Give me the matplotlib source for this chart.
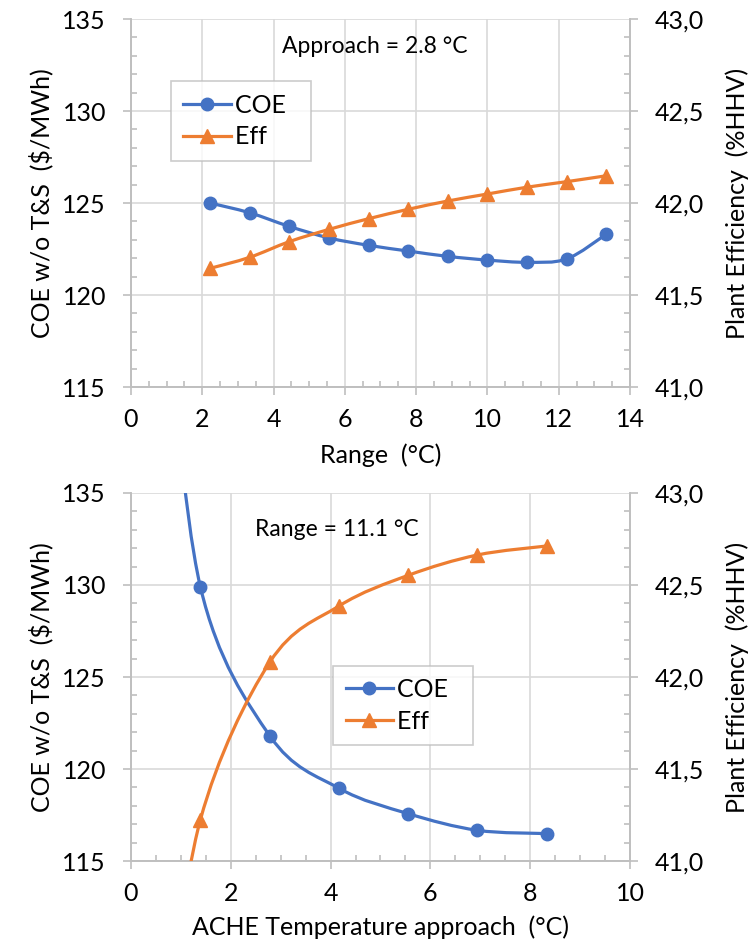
import matplotlib
matplotlib.use("Agg")
import matplotlib.pyplot as plt
import numpy as np
from matplotlib.lines import Line2D
from matplotlib.patches import PathPatch
from matplotlib.path import Path
from matplotlib.ticker import FuncFormatter, MultipleLocator

plt.rcParams["font.family"] = ["Lato", "DejaVu Sans"]

# top panel: varying range, approach = 2.8 C
range_c = [2.22, 3.33, 4.44, 5.56, 6.67, 7.78, 8.89, 10.0, 11.11, 12.22, 13.33]
coe_range = [125.0, 124.47, 123.73, 123.1, 122.7, 122.39, 122.1, 121.9, 121.78, 121.96, 123.3]
eff_range = [41.645, 41.705, 41.79, 41.857, 41.915, 41.966, 42.011, 42.049, 42.086, 42.116, 42.148]

# bottom panel: varying approach, range = 11.1 C (first point lies off the plotted range)
approach_c = [0.69, 1.39, 2.78, 4.17, 5.56, 6.94, 8.33]
coe_approach = [146.0, 129.91, 121.81, 118.95, 117.57, 116.67, 116.49]
eff_approach = [40.0, 41.223, 42.08, 42.386, 42.553, 42.663, 42.712]

BLUE = "#4472C4"
ORANGE = "#ED7D31"
GRID = "#D9D9D9"
SPINE = "#BFBFBF"
FS = 18


def smooth_path(x, y):
    # Excel-style smoothed line: cubic Bezier segments through the points
    pts = np.column_stack([x, y])
    n = len(pts)
    verts = [pts[0]]
    codes = [Path.MOVETO]
    for i in range(n - 1):
        p0 = pts[i - 1] if i > 0 else pts[i]
        p1, p2 = pts[i], pts[i + 1]
        p3 = pts[i + 2] if i + 2 < n else pts[i + 1]
        verts += [p1 + (p2 - p0) / 6, p2 - (p3 - p1) / 6, p2]
        codes += [Path.CURVE4] * 3
    return Path(verts, codes)


def comma(v, pos):
    return f"{v:.1f}".replace(".", ",")


def draw_panel(ax, x, coe, eff, xmax, xlabel, label_y, note, note_xy, leg_xy):
    ax2 = ax.twinx()
    ax.add_patch(PathPatch(smooth_path(x, coe), fill=False, edgecolor=BLUE, lw=2.3, zorder=3))
    ax.plot(x, coe, "o", color=BLUE, ms=9, zorder=4)
    ax2.add_patch(PathPatch(smooth_path(x, eff), fill=False, edgecolor=ORANGE, lw=2.3, zorder=3))
    ax2.plot(x, eff, "^", color=ORANGE, ms=9.5, zorder=4)

    ax.set_xlim(0, xmax)
    ax.set_ylim(115, 135)
    ax2.set_ylim(41.0, 43.0)
    ax.xaxis.set_major_locator(MultipleLocator(2))
    ax.xaxis.set_minor_locator(MultipleLocator(0.5))
    ax.yaxis.set_major_locator(MultipleLocator(5))
    ax.yaxis.set_minor_locator(MultipleLocator(1))
    ax2.yaxis.set_major_locator(MultipleLocator(0.5))
    ax2.yaxis.set_minor_locator(MultipleLocator(0.1))
    ax2.yaxis.set_major_formatter(FuncFormatter(comma))

    ax.grid(True, which="major", color=GRID, lw=1.2)
    ax.set_axisbelow(True)
    for a in (ax, ax2):
        for s in a.spines.values():
            s.set_color(SPINE)
            s.set_linewidth(1.2)
        a.spines["top"].set_visible(False)
        a.tick_params(which="major", direction="out", length=6, width=1.2, color=SPINE,
                      labelsize=FS, pad=12)
        a.tick_params(which="minor", direction="in", length=4, width=1.2, color=SPINE)
    ax.tick_params(axis="x", which="major", pad=9)

    ax.set_xlabel(xlabel, fontsize=FS, va="center")
    ax.xaxis.set_label_coords(0.5, label_y)
    ax.set_ylabel("COE w/o T&S  ($/MWh)", fontsize=FS, va="center")
    ax.yaxis.set_label_coords(-0.18, 0.5)
    ax2.set_ylabel("Plant Efficiency  (%HHV)", fontsize=FS, va="center")
    ax2.yaxis.set_label_coords(1.214, 0.5)

    ax.text(note_xy[0], note_xy[1], note, transform=ax.transAxes, fontsize=16.5,
            ha="center", va="center")

    handles = [
        Line2D([], [], color=BLUE, lw=2.3, marker="o", ms=9),
        Line2D([], [], color=ORANGE, lw=2.3, marker="^", ms=9.5),
    ]
    leg = ax2.legend(handles, ["COE  ", "Eff  "], loc="upper left", bbox_to_anchor=leg_xy,
                     borderaxespad=0, fontsize=FS, frameon=True, fancybox=False,
                     handlelength=1.9, handletextpad=0.15, labelspacing=0.35,
                     borderpad=0.5)
    leg.get_frame().set_edgecolor(SPINE)
    leg.get_frame().set_linewidth(1.2)


fig = plt.figure(figsize=(7.51, 9.41), dpi=100)
ax_top = fig.add_axes([0.1744, 0.5887, 0.6645, 0.3911])
ax_bot = fig.add_axes([0.1744, 0.0850, 0.6645, 0.3911])

draw_panel(ax_top, range_c, coe_range, eff_range, 14, "Range  (°C)", -0.185,
           "Approach = 2.8 °C", (0.489, 0.9266), (0.080, 0.8315))
draw_panel(ax_bot, approach_c, coe_approach, eff_approach, 10,
           "ACHE Temperature approach  (°C)", -0.1785,
           "Range = 11.1 °C", (0.413, 0.902), (0.405, 0.5307))

fig.savefig("out.png", dpi=100)
